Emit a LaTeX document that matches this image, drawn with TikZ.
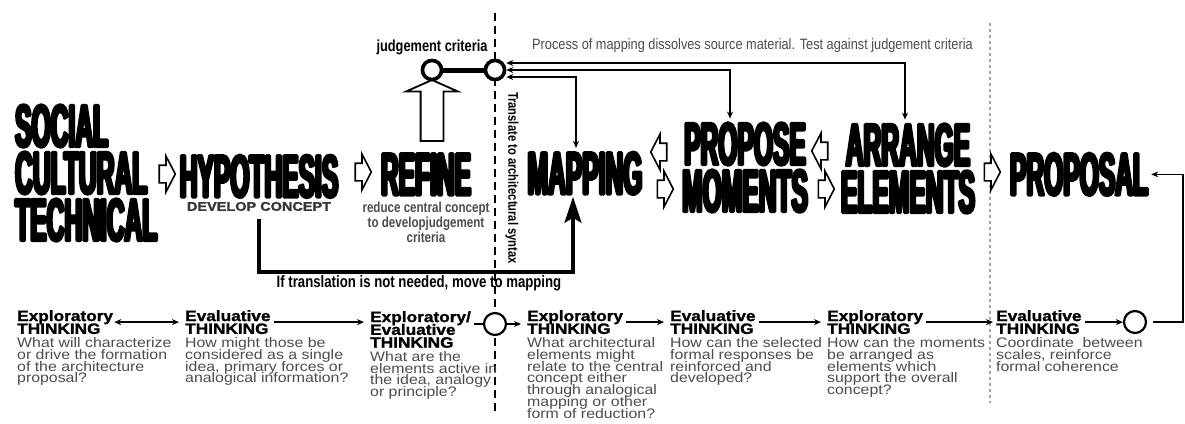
\documentclass[tikz,border=0pt]{standalone}
\usepackage{fontspec}
\usepackage{xcolor}
\usepackage{tikz}
\usetikzlibrary{positioning,arrows.meta,shapes.arrows}

\newfontfamily\wordfont[FakeStretch=0.41,FakeBold=5]{Liberation Sans Bold}
\newfontfamily\headfont[FakeStretch=1.15,FakeBold=1.5]{Liberation Sans Bold}
\newfontfamily\bodyfont[FakeStretch=1.15]{Liberation Sans}
\newfontfamily\cndfont[FakeStretch=0.8]{Liberation Sans Bold}
\newfontfamily\notefont[FakeStretch=0.85]{Liberation Sans}
\definecolor{ink}{gray}{0.3}
\newcommand\tight{\lineskiplimit=-20pt\relax}

\begin{document}
\begin{tikzpicture}[x=1pt,y=-1pt,
      every node/.style={inner sep=0pt},
      word/.style={font=\wordfont\fontsize{60}{47}\selectfont\tight, align=center, anchor=base, line join=round},
      fat/.style={single arrow, draw, fill=white, line width=1.6pt, inner ysep=8pt,
        minimum height=16pt, minimum width=34pt, single arrow head extend=9pt,
        single arrow tip angle=125},
      ring/.style={circle, draw, fill=white, line width=3.5pt, minimum size=19pt},
      dot/.style={circle, draw, fill=white, line width=2.2pt, minimum size=22pt},
      head/.style={font=\headfont\fontsize{15}{12.8}\selectfont\tight, align=left, anchor=north west},
      body/.style={font=\bodyfont\fontsize{13.8}{11.8}\selectfont\tight, text=ink, align=left},
      cnd/.style={font=\cndfont\fontsize{16}{12}\selectfont, text=ink, align=center},
      link/.style={line width=1.4pt, shorten >=6pt, shorten <=3pt},
      >={Stealth[length=7pt,width=6pt]}]
    \useasboundingbox (0,0) rectangle (1185,423);

    \coordinate (d1) at (495,13);
    \coordinate (d2) at (495,413);
    \coordinate (g1) at (990,23);
    \coordinate (g2) at (990,403);
    \draw[line width=2.6pt, dash pattern=on 8pt off 5pt] (d1) -- (d2);
    \draw[gray!70, line width=1.6pt, dash pattern=on 3pt off 3pt] (g1) -- (g2);

    \node[word, align=left, anchor=west] (soc) at (15,173) {SOCIAL\\CULTURAL\\TECHNICAL};
    \node[fat] (a1) at (165,174) {};
    \node[word] (hyp) at (259,197) {HYPOTHESIS};
    \node[font=\headfont\fontsize{12.6}{12}\selectfont, text=ink!70!black, below=4pt of hyp] (dev) {DEVELOP CONCEPT};
    \node[fat] (a2) at (361,172) {};
    \node[word] (ref) at (426,195) {REFINE};
    \node[cnd, font=\cndfont\fontsize{14.5}{11.5}\selectfont, below=7pt of ref] (red)
      {reduce central concept\\to developjudgement\\criteria};
    \node[fat, rotate=90, line width=1.8pt, inner ysep=10.5pt, minimum height=61pt,
      minimum width=50pt, single arrow head extend=14.5pt, single arrow tip angle=132] (up) at (432,113) {};
    \node[ring] (jl) at (432,70) {};
    \node[ring] (jr) at (495,70) {};
    \draw[line width=5pt] (jl) -- (jr);
    \node[ring] at (jl) {};
    \node[ring] at (jr) {};
    \node[cnd, text=black, above=4pt of jl] (jc) {judgement criteria};
    \node[cnd, text=black, font=\cndfont\fontsize{14}{12}\selectfont, rotate=-90] (tr) at (512,178)
      {Translate to architectural syntax};
    \node[font=\notefont\fontsize{15}{12}\selectfont, text=ink, anchor=west] (pm) at (532,46)
      {Process of mapping dissolves source material. Test against judgement criteria};

    \node[word] (map) at (585,194) {MAPPING};
    \node[fat, rotate=180] (a3) at (661,152) {};
    \node[fat] (a4) at (663,189) {};
    \node[word, anchor=center] (pro) at (745,167.5) {PROPOSE\\MOMENTS};
    \node[fat, rotate=180] (a5) at (822,151) {};
    \node[fat] (a6) at (824,189) {};
    \node[word, anchor=center] (arr) at (908,168.5) {ARRANGE\\ELEMENTS};
    \node[fat] (a7) at (990,172) {};
    \node[word] (fnl) at (1079,195) {PROPOSAL};

    \draw[<->, line width=1.3pt] ([yshift=7pt]jr.east) -| ([xshift=-3pt,yshift=4pt]arr.north);
    \draw[<->, line width=1.3pt] (jr.east) -| ([xshift=-15pt,yshift=4pt]pro.north);
    \draw[<->, line width=1.3pt] ([yshift=-7pt]jr.east) -| ([xshift=-9pt,yshift=4pt]map.north);

    \draw[line width=3.5pt, -{Stealth[length=26pt,width=17pt,inset=5pt]}]
      ([yshift=-8pt]dev.south) -- ++(0,53) -| ([xshift=-12pt,yshift=-2pt]map.south);
    \node[cnd, text=black, font=\cndfont\fontsize{16.5}{12}\selectfont] (skip) at (419,283)
      {If translation is not needed, move to mapping};

    \node[head] (h1) at (17,310) {Exploratory\\THINKING};
    \node[body, below right=3pt and 0pt of h1.south west] (b1)
      {What will characterize\\or drive the formation\\of the architecture\\proposal?};
    \node[head] (h2) at (185,310) {Evaluative\\THINKING};
    \node[body, below right=3pt and 0pt of h2.south west] (b2)
      {How might those be\\considered as a single\\idea, primary forces or\\analogical information?};
    \node[head] (h3) at (370,311) {Exploratory/\\Evaluative\\THINKING};
    \node[body, below right=3pt and 0pt of h3.south west] (b3)
      {What are the\\elements active in\\the idea, analogy\\or principle?};
    \node[head] (h4) at (527,310) {Exploratory\\THINKING};
    \node[body, below right=3pt and 0pt of h4.south west] (b4)
      {What architectural\\elements might\\relate to the central\\concept either\\through analogical\\mapping or other\\form of reduction?};
    \node[head] (h5) at (670,310) {Evaluative\\THINKING};
    \node[body, below right=3pt and 0pt of h5.south west] (b5)
      {How can the selected\\formal responses be\\reinforced and\\developed?};
    \node[head] (h6) at (827,310) {Exploratory\\THINKING};
    \node[body, below right=3pt and 0pt of h6.south west] (b6)
      {How can the moments\\be arranged as\\elements which\\support the overall\\concept?};
    \node[head] (h7) at (996,310) {Evaluative\\THINKING};
    \node[body, below right=3pt and 0pt of h7.south west] (b7)
      {Coordinate\ \ between\\scales, reinforce\\formal coherence};

    \node[dot] (c3) at (495,324) {};
    \node[dot] (fin) at (1135,322) {};
    \coordinate (rt) at (1183,322);

    \draw[link, <->, shorten <=1pt] (h1.east) -- (h1.east -| h2.west);
    \draw[link, ->] (h2.east) -- (h2.east -| h3.west);
    \draw[link, shorten >=0pt] (c3 -| h3.east) -- (c3.west);
    \draw[link, ->, shorten <=0pt] (c3.east) -- (c3 -| h4.west);
    \draw[link, ->] (h4.east) -- (h4.east -| h5.west);
    \draw[link, ->] (h5.east) -- (h5.east -| h6.west);
    \draw[link, ->, shorten >=3pt] (h6.east) -- (h6.east -| h7.west);
    \draw[link, ->, shorten >=0pt] (h7.east) -- (h7.east -| fin.west);
    \draw[link, ->, shorten <=6pt, shorten >=3pt] (fin.east) -- (rt) |- (fnl.east);
\end{tikzpicture}
\end{document}
